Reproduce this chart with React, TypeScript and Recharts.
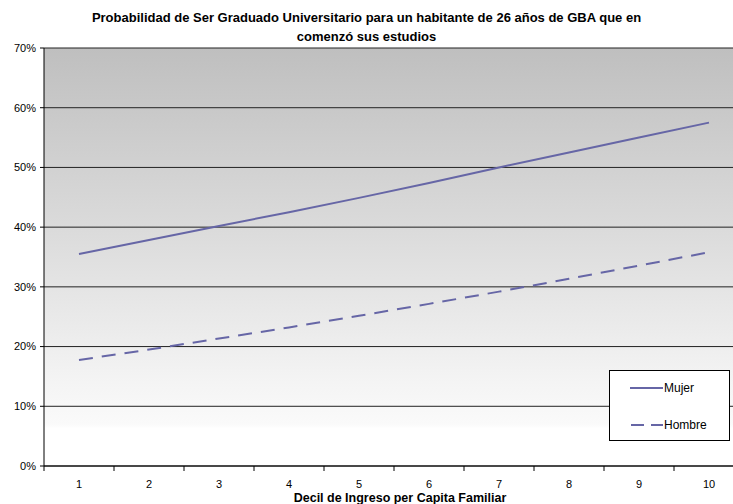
import React from "react";
import {
  LineChart,
  Line,
  XAxis,
  YAxis,
  CartesianGrid,
} from "recharts";

const deciles = ["1", "2", "3", "4", "5", "6", "7", "8", "9", "10"];
const mujer = [35.5, 37.85, 40.2, 42.5, 44.9, 47.4, 50.0, 52.5, 55.0, 57.5];
const hombre = [17.75, 19.5, 21.35, 23.2, 25.15, 27.15, 29.2, 31.35, 33.55, 35.8];
const yTicks = [0, 10, 20, 30, 40, 50, 60, 70];
const titleLines = [
  "Probabilidad de Ser Graduado Universitario para un habitante de 26 años de GBA que en",
  "comenzó sus estudios",
];
const xAxisTitle = "Decil de Ingreso per Capita Familiar";
const seriesNames = ["Mujer", "Hombre"];

const data = deciles.map((d, i) => ({ decil: d, Mujer: mujer[i], Hombre: hombre[i] }));

const FONT = "'Liberation Sans', Arial, sans-serif";
const LINE_COLOR = "#6666a6";

const XTick = (props: any) => {
  const { x, y, payload } = props;
  const off = payload && payload.offset != null ? payload.offset : 35;
  return (
    <g>
      <line x1={x - off} x2={x - off} y1={y - 8} y2={y - 3} stroke="#000" strokeWidth={1} />
      <text x={x} y={y + 14} textAnchor="middle" fontSize={11} fontFamily={FONT} fill="#000">
        {payload.value}
      </text>
    </g>
  );
};

const LegendBox = () => (
  <div
    style={{
      position: "absolute",
      left: 609,
      top: 370,
      width: 119,
      height: 69,
      border: "1px solid #000",
      background: "#fff",
    }}
  >
    <svg width={119} height={69} style={{ position: "absolute", left: 0, top: 0 }}>
      <line x1={20} x2={53} y1={17} y2={17} stroke={LINE_COLOR} strokeWidth={2} />
      <text x={54} y={21} fontSize={12} fontFamily={FONT} fill="#000">{seriesNames[0]}</text>
      <line x1={21} x2={53} y1={54} y2={54} stroke={LINE_COLOR} strokeWidth={2} strokeDasharray="13 7" />
      <text x={54} y={58} fontSize={12} fontFamily={FONT} fill="#000">{seriesNames[1]}</text>
    </svg>
  </div>
);

export default function App() {
  return (
    <div
      style={{
        position: "absolute",
        left: 0,
        top: 0,
        width: 733,
        height: 504,
        overflow: "hidden",
        background: "#fff",
      }}
    >
      <div
        style={{
          position: "absolute",
          left: 0,
          top: 8,
          width: 733,
          textAlign: "center",
          fontFamily: FONT,
          fontWeight: "bold",
          fontSize: 13,
          lineHeight: "19px",
          color: "#000",
        }}
      >
        <div>{titleLines[0]}</div>
        <div>{titleLines[1]}</div>
      </div>
      <div style={{ position: "absolute", left: 0, top: 0 }}>
        <LineChart
          width={760}
          height={504}
          data={data}
          margin={{ top: 48, right: 16, bottom: 8, left: 0 }}
        >
          <defs>
            <linearGradient id="bgGrad" x1="0" y1="0" x2="0" y2="1">
              <stop offset="0" stopColor="#bfbfbf" />
              <stop offset="0.45" stopColor="#dcdcdc" />
              <stop offset="0.8" stopColor="#f4f4f4" />
              <stop offset="0.9" stopColor="#fafafa" />
              <stop offset="0.91" stopColor="#ffffff" />
              <stop offset="1" stopColor="#ffffff" />
            </linearGradient>
          </defs>
          <CartesianGrid
            vertical={false}
            fill="url(#bgGrad)"
            fillOpacity={1}
            stroke="#222"
            strokeWidth={1}
          />
          <XAxis
            dataKey="decil"
            scale="band"
            height={30}
            axisLine={{ stroke: "#000" }}
            tickLine={false}
            tick={<XTick />}
            interval={0}
          />
          <YAxis
            width={44}
            domain={[0, 70]}
            ticks={yTicks}
            interval={0}
            tickFormatter={(v: number) => `${v}%`}
            axisLine={{ stroke: "#000" }}
            tickLine={{ stroke: "#000" }}
            tickSize={4}
            tickMargin={4}
            tick={{ fontSize: 11, fontFamily: FONT, fill: "#000" }}
          />
          <Line
            type="linear"
            dataKey="Mujer"
            stroke={LINE_COLOR}
            strokeWidth={2}
            dot={false}
            isAnimationActive={false}
          />
          <Line
            type="linear"
            dataKey="Hombre"
            stroke={LINE_COLOR}
            strokeWidth={2}
            strokeDasharray="14 9"
            dot={false}
            isAnimationActive={false}
          />
          <text
            x={400}
            y={502}
            textAnchor="middle"
            fontSize={12.5}
            fontWeight="bold"
            fontFamily={FONT}
            fill="#000"
          >
            {xAxisTitle}
          </text>
        </LineChart>
      </div>
      <LegendBox />
    </div>
  );
}
